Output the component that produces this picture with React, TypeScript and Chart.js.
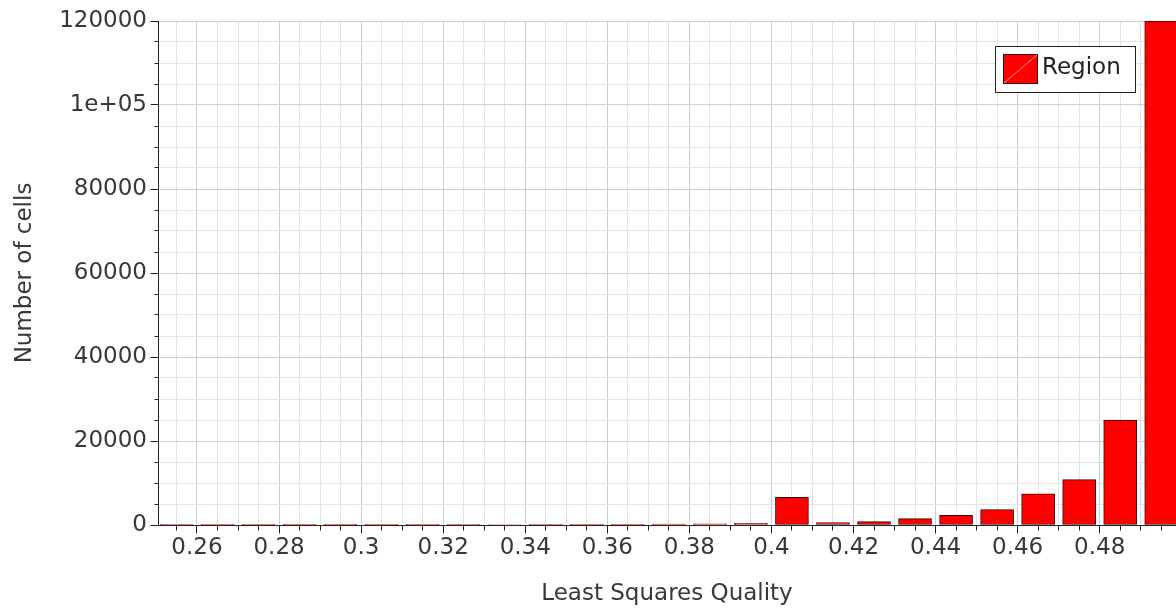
import React, { useEffect, useRef } from 'react';
import { Chart, registerables } from 'chart.js';

Chart.register(...registerables);

// ---- data ----
const binCenters = [
  0.255, 0.265, 0.275, 0.285, 0.295, 0.305, 0.315, 0.325, 0.335, 0.345,
  0.355, 0.365, 0.375, 0.385, 0.395, 0.405, 0.415, 0.425, 0.435, 0.445,
  0.455, 0.465, 0.475, 0.485, 0.495,
];
const cellCounts = [
  20, 30, 40, 50, 60, 70, 80, 100, 110, 130,
  150, 170, 200, 260, 380, 6600, 550, 800, 1500, 2300,
  3650, 7450, 10800, 25000, 120000,
];
const seriesLabel = 'Region';
const xTitle = 'Least Squares Quality';
const yTitle = 'Number of cells';
const xMajorTicks = [0.26, 0.28, 0.3, 0.32, 0.34, 0.36, 0.38, 0.4, 0.42, 0.44, 0.46, 0.48];
const xMajorLabels = ['0.26', '0.28', '0.3', '0.32', '0.34', '0.36', '0.38', '0.4', '0.42', '0.44', '0.46', '0.48'];
const yMajorTicks = [0, 20000, 40000, 60000, 80000, 100000, 120000];
const yMajorLabels = ['0', '20000', '40000', '60000', '80000', '1e+05', '120000'];

const FONT = "'DejaVu Sans', 'Liberation Sans', sans-serif";
const TEXT = '#383838';

const isXMajor = (v: number) => xMajorTicks.some((t) => Math.abs(t - v) < 1e-7);
const isYMajor = (v: number) => yMajorTicks.some((t) => Math.abs(t - v) < 1e-3);
const align = (p: number) => Math.round(p - 0.5) + 0.5;

const tickMarks = {
  id: 'tickMarks',
  afterDraw(chart: any) {
    const { ctx, chartArea } = chart;
    const x = chart.scales.x;
    const y = chart.scales.y;
    ctx.save();
    ctx.strokeStyle = '#222222';
    ctx.lineWidth = 1;
    ctx.beginPath();
    const by = align(chartArea.bottom);
    x.ticks.forEach((t: any) => {
      const px = align(x.getPixelForValue(t.value));
      const len = isXMajor(t.value) ? 8 : 5;
      ctx.moveTo(px, by);
      ctx.lineTo(px, by + len);
    });
    const lx = align(chartArea.left);
    y.ticks.forEach((t: any) => {
      const py = align(y.getPixelForValue(t.value));
      const len = isYMajor(t.value) ? 8 : 4;
      ctx.moveTo(lx, py);
      ctx.lineTo(lx - len, py);
    });
    ctx.stroke();
    ctx.restore();
  },
};

const boxLegend = {
  id: 'boxLegend',
  afterDraw(chart: any) {
    const { ctx, chartArea } = chart;
    const ds = chart.data.datasets[0];
    ctx.save();
    ctx.font = `23px ${FONT}`;
    const tw = ctx.measureText(ds.label).width;
    const h = 46;
    const w = Math.round(8 + 35 + 4 + tw + 14);
    const right = Math.round(chartArea.right - 41);
    const left = right - w;
    const top = Math.round(chartArea.top + 25);
    ctx.fillStyle = '#ffffff';
    ctx.fillRect(left, top, w, h);
    ctx.strokeStyle = '#222222';
    ctx.lineWidth = 1;
    ctx.strokeRect(left + 0.5, top + 0.5, w, h);
    const sx = left + 8;
    const sy = top + 8;
    const sw = 35;
    const sh = 30;
    ctx.fillStyle = ds.backgroundColor;
    ctx.fillRect(sx, sy, sw, sh);
    ctx.strokeStyle = ds.borderColor;
    ctx.strokeRect(sx + 0.5, sy + 0.5, sw - 1, sh - 1);
    ctx.strokeStyle = 'rgba(255,160,160,0.9)';
    ctx.beginPath();
    ctx.moveTo(sx + 1, sy + sh - 1);
    ctx.lineTo(sx + sw - 1, sy + 1);
    ctx.stroke();
    ctx.fillStyle = '#222222';
    ctx.textBaseline = 'middle';
    ctx.textAlign = 'left';
    ctx.fillText(ds.label, sx + sw + 4, top + 22);
    ctx.restore();
  },
};

export default function App() {
  const ref = useRef<HTMLCanvasElement | null>(null);

  useEffect(() => {
    if (!ref.current) return;
    const chart = new Chart(ref.current, {
      type: 'bar',
      data: {
        datasets: [
          {
            label: seriesLabel,
            data: binCenters.map((c, i) => ({ x: c, y: cellCounts[i] })),
            backgroundColor: '#ff0000',
            borderColor: '#3c0000',
            borderWidth: 1,
            borderSkipped: false,
            barThickness: 33,
          },
        ],
      },
      options: {
        animation: false,
        responsive: false,
        maintainAspectRatio: false,
        layout: { padding: { top: 21, right: 0, bottom: 0, left: 0 } },
        plugins: {
          legend: { display: false },
          tooltip: { enabled: false },
        },
        scales: {
          x: {
            type: 'linear',
            min: 0.2505,
            max: 0.4986,
            offset: false,
            afterBuildTicks: (axis: any) => {
              const ticks: any[] = [];
              for (let k = 51; k * 0.005 < axis.max; k++) ticks.push({ value: Math.round(k * 5) / 1000 });
              axis.ticks = ticks;
            },
            afterFit: (scale: any) => {
              scale.height = 85;
              scale.paddingLeft = 0;
              scale.paddingRight = 0;
            },
            ticks: {
              autoSkip: false,
              maxRotation: 0,
              minRotation: 0,
              padding: 9,
              color: TEXT,
              font: { family: FONT, size: 23 },
              callback: (v: any) => {
                const i = xMajorTicks.findIndex((t) => Math.abs(t - v) < 1e-7);
                return i >= 0 ? xMajorLabels[i] : '';
              },
            },
            grid: {
              offset: false,
              drawTicks: false,
              color: (c: any) => (c.tick && isXMajor(c.tick.value) ? '#cfcfcf' : '#e3e3e3'),
              lineWidth: 1,
            },
            border: { display: true, color: '#222222', width: 1 },
            title: {
              display: true,
              text: xTitle,
              color: TEXT,
              font: { family: FONT, size: 23 },
              padding: { top: 0, bottom: 2 },
            },
          },
          y: {
            type: 'linear',
            min: 0,
            max: 120000,
            afterFit: (scale: any) => {
              scale.width = 158;
              scale.paddingTop = 0;
              scale.paddingBottom = 0;
            },
            ticks: {
              stepSize: 5000,
              autoSkip: false,
              padding: 11,
              color: TEXT,
              font: { family: FONT, size: 23 },
              callback: (v: any) => {
                const i = yMajorTicks.findIndex((t) => Math.abs(t - v) < 1e-3);
                return i >= 0 ? yMajorLabels[i] : '';
              },
            },
            grid: {
              drawTicks: false,
              color: (c: any) => (c.tick && isYMajor(c.tick.value) ? '#cfcfcf' : '#e3e3e3'),
              lineWidth: 1,
            },
            border: { display: true, color: '#222222', width: 1 },
            title: {
              display: true,
              text: yTitle,
              color: TEXT,
              font: { family: FONT, size: 23 },
              padding: { top: 11, bottom: 0 },
            },
          },
        },
      },
      plugins: [tickMarks, boxLegend],
    } as any);
    return () => chart.destroy();
  }, []);

  return (
    <div style={{ position: 'fixed', left: 0, top: 0, width: 1176, height: 610, background: '#ffffff' }}>
      <canvas ref={ref} width={1176} height={610} style={{ width: 1176, height: 610, display: 'block' }} />
    </div>
  );
}
